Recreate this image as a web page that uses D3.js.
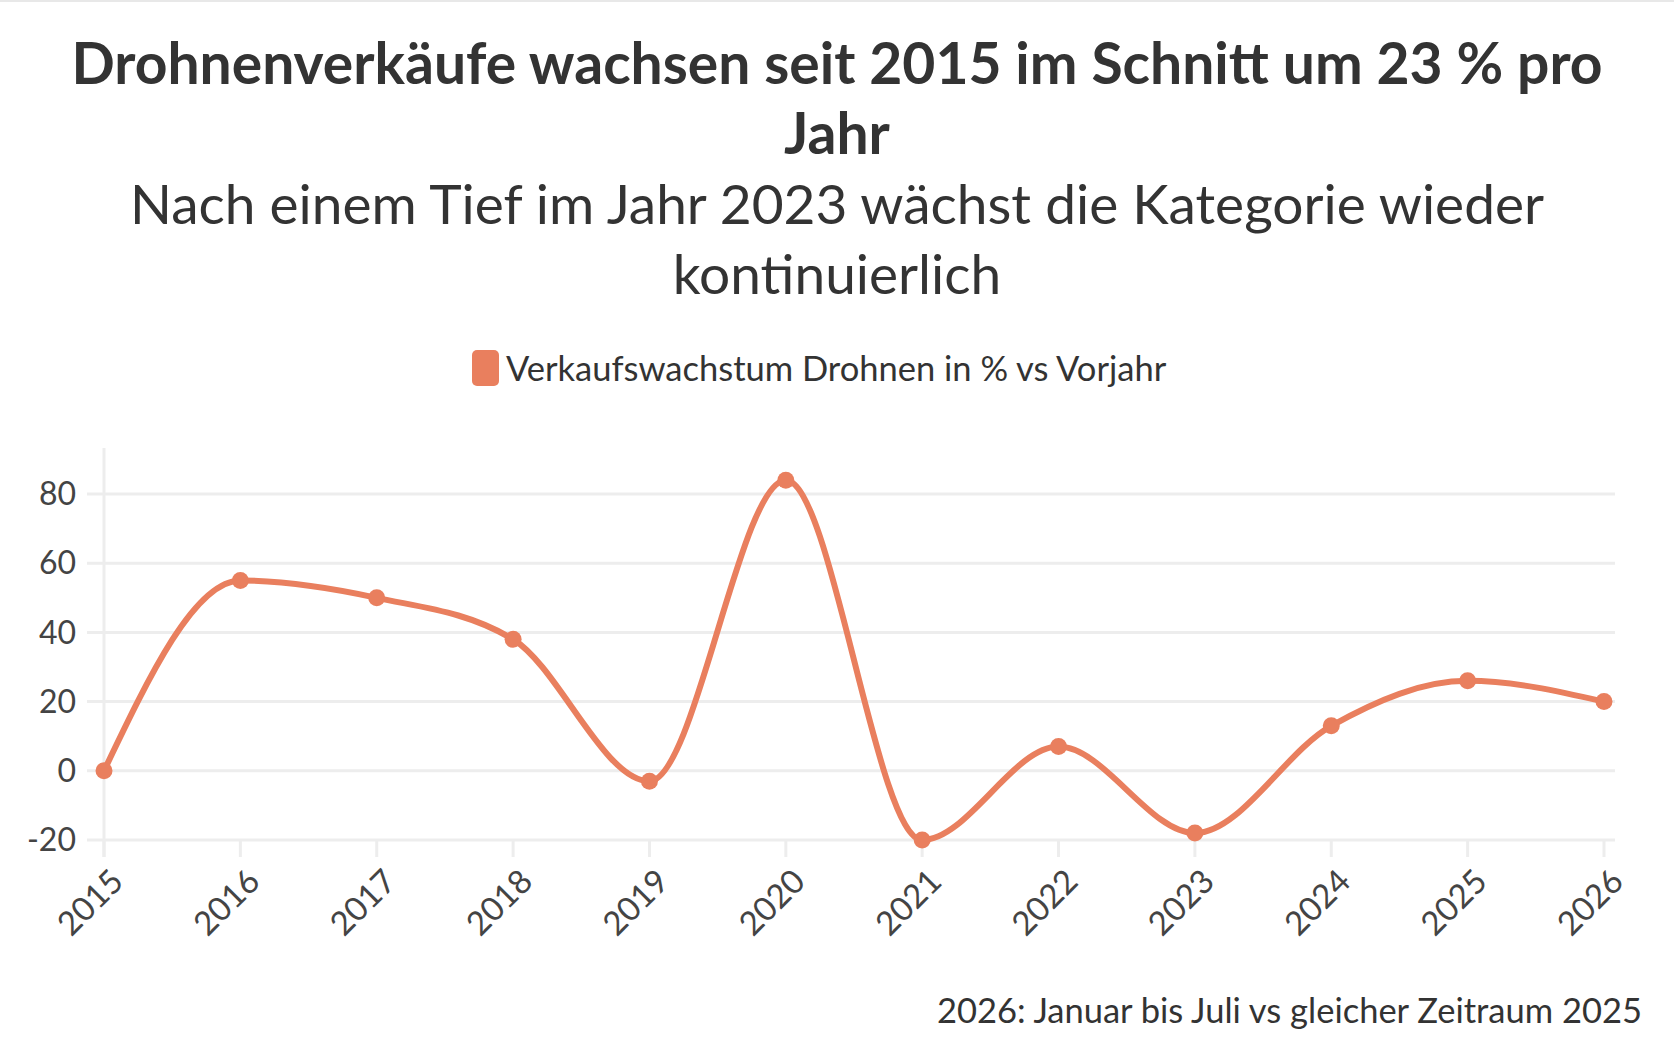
<!DOCTYPE html>
<html>
<head>
<meta charset="utf-8">
<title>Drohnenverkäufe</title>
<script src="https://cdn.jsdelivr.net/npm/d3@7"></script>
<style>
  body { margin: 0; background: #fff; }
  svg text { font-family: Lato, "Noto Sans", sans-serif; fill: #333; }
</style>
</head>
<body>
<svg id="chart" width="1674" height="1054"></svg>
<script>
// Daten
var jahre = [2015, 2016, 2017, 2018, 2019, 2020, 2021, 2022, 2023, 2024, 2025, 2026];
var wachstum = [0, 55, 50, 38, -3, 84, -20, 7, -18, 13, 26, 20];
var yTicks = [-20, 0, 20, 40, 60, 80];
var titelZeilen = ["Drohnenverkäufe wachsen seit 2015 im Schnitt um 23 % pro", "Jahr"];
var untertitelZeilen = ["Nach einem Tief im Jahr 2023 wächst die Kategorie wieder", "kontinuierlich"];
var serienName = "Verkaufswachstum Drohnen in % vs Vorjahr";
var fussnote = "2026: Januar bis Juli vs gleicher Zeitraum 2025";

var farbe = "#e97f5e";
var W = 1674, H = 1054;
var svg = d3.select("#chart");

// feine Linie oben
svg.append("line").attr("x1", 0).attr("x2", W).attr("y1", 1).attr("y2", 1)
  .attr("stroke", "#e8e8e8").attr("stroke-width", 2);

// Titel + Untertitel
svg.selectAll("text.titel").data(titelZeilen).enter().append("text")
  .attr("class", "titel")
  .attr("x", W / 2).attr("y", function(d, i) { return 84 + i * 70; })
  .attr("text-anchor", "middle")
  .style("font-size", "57px").style("font-weight", "bold")
  .text(function(d) { return d; });

svg.selectAll("text.unter").data(untertitelZeilen).enter().append("text")
  .attr("class", "unter")
  .attr("x", W / 2).attr("y", function(d, i) { return 224 + i * 70; })
  .attr("text-anchor", "middle")
  .style("font-size", "55px")
  .text(function(d) { return d; });

// Legende
var leg = svg.append("g");
leg.append("rect").attr("x", 472).attr("y", 350).attr("width", 27).attr("height", 36)
  .attr("rx", 5).attr("fill", farbe);
leg.append("text").attr("x", 506).attr("y", 381)
  .style("font-size", "34.5px").text(serienName);

// Skalen
var x = d3.scaleLinear().domain([2015, 2026]).range([104, 1604]);
var y = d3.scaleLinear().domain([-20, 93.3]).range([840, 448]);

// Gitter
svg.append("g").selectAll("line").data(yTicks).enter().append("line")
  .attr("x1", 87).attr("x2", 1615)
  .attr("y1", function(d) { return y(d); }).attr("y2", function(d) { return y(d); })
  .attr("stroke", "#ededed").attr("stroke-width", 3);

// y-Achse Linie
svg.append("line").attr("x1", x(2015)).attr("x2", x(2015))
  .attr("y1", 448).attr("y2", 857)
  .attr("stroke", "#ededed").attr("stroke-width", 3);

// x-Ticks
svg.append("g").selectAll("line").data(jahre).enter().append("line")
  .attr("x1", function(d) { return x(d); }).attr("x2", function(d) { return x(d); })
  .attr("y1", 840).attr("y2", 857)
  .attr("stroke", "#ededed").attr("stroke-width", 3);

// y-Beschriftung
svg.append("g").selectAll("text").data(yTicks).enter().append("text")
  .attr("x", 76).attr("y", function(d) { return y(d); })
  .attr("dy", "0.35em").attr("text-anchor", "end")
  .style("font-size", "32px").style("fill", "#444")
  .text(function(d) { return d; });

// x-Beschriftung (gedreht)
svg.append("g").selectAll("text").data(jahre).enter().append("text")
  .attr("transform", function(d) { return "translate(" + (x(d) + 5) + ",867) rotate(-45)"; })
  .attr("text-anchor", "end").attr("dy", "0.7em")
  .style("font-size", "33px").style("fill", "#444")
  .text(function(d) { return d; });

// Linie
var punkte = jahre.map(function(j, i) { return [j, wachstum[i]]; });
var linie = d3.line()
  .x(function(d) { return x(d[0]); })
  .y(function(d) { return y(d[1]); })
  .curve(d3.curveMonotoneX);

svg.append("path").datum(punkte)
  .attr("d", linie).attr("fill", "none")
  .attr("stroke", farbe).attr("stroke-width", 6)
  .attr("stroke-linejoin", "round").attr("stroke-linecap", "round");

svg.append("g").selectAll("circle").data(punkte).enter().append("circle")
  .attr("cx", function(d) { return x(d[0]); })
  .attr("cy", function(d) { return y(d[1]); })
  .attr("r", 8.5).attr("fill", farbe);

// Fussnote
svg.append("text").attr("x", 1642).attr("y", 1023)
  .attr("text-anchor", "end").style("font-size", "34.5px")
  .text(fussnote);
</script>
</body>
</html>
